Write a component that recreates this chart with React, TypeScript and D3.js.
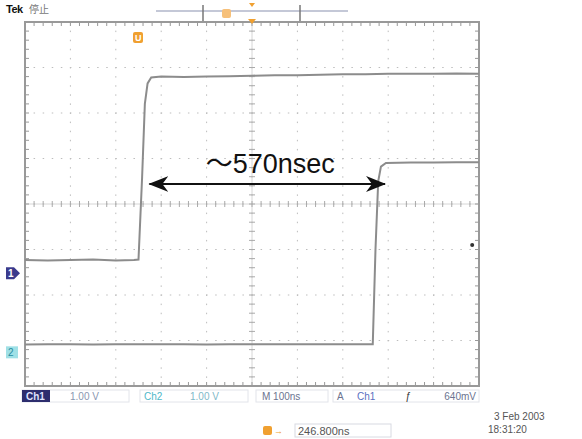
import React from 'react';
import * as d3 from 'd3';

// screen divisions: 10 horizontal x 8 vertical
const xDivs = d3.range(-5, 6);
const yDivs = d3.range(-4, 5);

// Ch1 trace [time div, volt div]
const ch1Points: [number, number][] = [
  [-5, -1.23], [-4.5, -1.24], [-4, -1.23], [-3.5, -1.22], [-3, -1.24], [-2.6, -1.23], [-2.5, -1.22],
  [-2.42, 0.6], [-2.36, 2.2], [-2.3, 2.65], [-2.22, 2.78], [-2, 2.8], [-1.5, 2.79],
  [-1, 2.8], [-0.5, 2.81], [0, 2.82], [0.5, 2.83], [1, 2.83], [1.5, 2.84],
  [2, 2.85], [2.5, 2.85], [3, 2.86], [3.5, 2.86], [4, 2.86], [4.5, 2.87], [5, 2.86],
];

// Ch2 trace
const ch2Points: [number, number][] = [
  [-5, -3.09], [-4.5, -3.08], [-4, -3.08], [-3.5, -3.09], [-3, -3.08], [-2.5, -3.08],
  [-2, -3.08], [-1.5, -3.08], [-1, -3.09], [-0.5, -3.08], [0, -3.08], [0.5, -3.08],
  [1, -3.08], [1.5, -3.08], [2, -3.08], [2.5, -3.08], [2.66, -3.08],
  [2.72, -1.0], [2.78, 0.5], [2.84, 0.82], [2.95, 0.9], [3.5, 0.91], [4, 0.91], [4.5, 0.92], [5, 0.92],
];

const ch1Ground = -1.52;
const ch2Ground = -3.26;
const arrowFrom = -2.26;
const arrowTo = 2.93;
const arrowLevel = 0.44;
const arrowLabel = '～570nsec';

const statusItems = ['1.00 V', '1.00 V', 'M 100ns', '640mV'];
const cursorLabel = '246.800ns';
const dateLabel = '3 Feb 2003';
const timeLabel = '18:31:20';

const W = 582;
const H = 439;

export default function App() {
  const x = d3.scaleLinear().domain([-5, 5]).range([25, 479]);
  const y = d3.scaleLinear().domain([-4, 4]).range([386, 22]);
  const line = d3.line<[number, number]>().x(d => x(d[0])).y(d => y(d[1]));

  const minorX = d3.range(-5, 5.01, 0.2);
  const minorY = d3.range(-4, 4.01, 0.2);
  const dotX = d3.range(-5, 5.01, 0.2);
  const dotY = d3.range(-4, 4.01, 0.2);

  const txt = { fontFamily: 'Liberation Sans, Arial, sans-serif', fontSize: 10 };
  const y0 = y(arrowLevel);

  return (
    <svg width={W} height={H} style={{ position: 'absolute', left: 0, top: 0, background: '#fff' }}>
      <defs>
        <marker id="ah" viewBox="0 0 20 16" refX="19" refY="8" markerWidth="20" markerHeight="16"
          markerUnits="userSpaceOnUse" orient="auto-start-reverse">
          <path d="M0,0 L20,8 L0,16 L6,8 Z" fill="#111" />
        </marker>
      </defs>

      {/* dotted grid */}
      {xDivs.slice(1, -1).map(d => (
        <g key={'gx' + d}>
          {dotY.map(v => (
            <rect key={v} x={x(d) - 0.5} y={y(v) - 0.5} width={1} height={1.5} fill="#bdbdbd" />
          ))}
        </g>
      ))}
      {yDivs.slice(1, -1).map(d => (
        <g key={'gy' + d}>
          {dotX.map(v => (
            <rect key={v} x={x(v) - 0.5} y={y(d) - 0.5} width={1.5} height={1} fill="#bdbdbd" />
          ))}
        </g>
      ))}

      {/* center cross with minor ticks */}
      <line x1={x(0)} x2={x(0)} y1={y(4)} y2={y(-4)} stroke="#d6d6d6" strokeWidth={1} />
      <line x1={x(-5)} x2={x(5)} y1={y(0)} y2={y(0)} stroke="#d6d6d6" strokeWidth={1} />
      {minorX.map(v => (
        <line key={'mx' + v} x1={x(v)} x2={x(v)} y1={y(0) - 3} y2={y(0) + 3} stroke="#aaa" />
      ))}
      {minorY.map(v => (
        <line key={'my' + v} x1={x(0) - 3} x2={x(0) + 3} y1={y(v)} y2={y(v)} stroke="#aaa" />
      ))}

      {/* border with ticks */}
      <rect x={x(-5)} y={y(4)} width={x(5) - x(-5)} height={y(-4) - y(4)} fill="none" stroke="#999" strokeWidth={2} />
      {minorX.map(v => (
        <g key={'bx' + v}>
          <line x1={x(v)} x2={x(v)} y1={y(4)} y2={y(4) + 4} stroke="#999" />
          <line x1={x(v)} x2={x(v)} y1={y(-4)} y2={y(-4) - 4} stroke="#999" />
        </g>
      ))}
      {minorY.map(v => (
        <g key={'by' + v}>
          <line x1={x(-5)} x2={x(-5) + 4} y1={y(v)} y2={y(v)} stroke="#999" />
          <line x1={x(5)} x2={x(5) - 4} y1={y(v)} y2={y(v)} stroke="#999" />
        </g>
      ))}

      {/* traces */}
      <path d={line(ch1Points) ?? ''} fill="none" stroke="#8c8c8c" strokeWidth={2} />
      <path d={line(ch2Points) ?? ''} fill="none" stroke="#8c8c8c" strokeWidth={2} />

      {/* ground markers */}
      <path d={`M6,${y(ch1Ground) - 6} h8 l6,6 l-6,6 h-8 Z`} fill="#3a3a8c" />
      <text x={8} y={y(ch1Ground) + 4} fill="#fff" style={{ ...txt, fontSize: 10, fontWeight: 700 }}>1</text>
      <rect x={6} y={y(ch2Ground) - 6} width={12} height={12} fill="#9fe0e6" />
      <text x={8} y={y(ch2Ground) + 4} fill="#2a8fa0" style={{ ...txt, fontSize: 10 }}>2</text>

      {/* stray dot */}
      <circle cx={x(4.85)} cy={y(-0.9)} r={2} fill="#333" />

      {/* trigger markers */}
      <rect x={133} y={32} width={10} height={11} rx={2} fill="#f0a030" />
      <text x={135} y={41} fill="#fff" style={{ ...txt, fontSize: 9, fontWeight: 700 }}>U</text>
      <path d={`M${x(0) - 4},19 h8 l-4,5 Z`} fill="#f0a030" />
      <path d={`M${x(0) - 3},3 h6 l-3,4 Z`} fill="#f0a030" />

      {/* record bar */}
      <line x1={156} x2={348} y1={11} y2={11} stroke="#8a92b0" strokeWidth={1.2} />
      <line x1={203} x2={203} y1={5} y2={21} stroke="#777" strokeWidth={1.5} />
      <line x1={300} x2={300} y1={5} y2={21} stroke="#777" strokeWidth={1.5} />
      <rect x={222} y={9} width={9} height={9} rx={2} fill="#f6c07a" />

      {/* Tek header */}
      <text x={6} y={13} fill="#111" style={{ ...txt, fontSize: 11, fontWeight: 700, letterSpacing: -0.5 }}>Tek</text>
      <text x={29} y={13} fill="#777" style={{ fontFamily: 'Noto Sans CJK JP', fontSize: 10 }}>停止</text>

      {/* measurement arrow */}
      <line x1={x(arrowFrom)} x2={x(arrowTo)} y1={y0} y2={y0} stroke="#111" strokeWidth={2}
        markerStart="url(#ah)" markerEnd="url(#ah)" />
      <text x={(x(arrowFrom) + x(arrowTo)) / 2 + 3} y={y0 - 11} textAnchor="middle" fill="#111"
        style={{ fontFamily: 'Liberation Sans, Noto Sans CJK JP, sans-serif', fontSize: 27 }}>{arrowLabel}</text>

      {/* status bar */}
      <rect x={22} y={390} width={107} height={12} fill="none" stroke="#e2e4ea" />
      <rect x={22} y={390} width={28} height={12} fill="#2d2d6e" />
      <text x={26} y={400} fill="#dfe2ff" style={{ ...txt, fontWeight: 700 }}>Ch1</text>
      <text x={70} y={400} fill="#8a96b0" style={txt}>{statusItems[0]}</text>
      <rect x={140} y={390} width={108} height={12} fill="none" stroke="#e2e4ea" />
      <text x={144} y={400} fill="#4fb8c8" style={txt}>Ch2</text>
      <text x={190} y={400} fill="#7fb8c8" style={txt}>{statusItems[1]}</text>
      <rect x={256} y={390} width={72} height={12} fill="none" stroke="#e2e4ea" />
      <text x={262} y={400} fill="#6c7490" style={txt}>{statusItems[2]}</text>
      <rect x={333} y={390} width={146} height={12} fill="none" stroke="#e2e4ea" />
      <text x={337} y={400} fill="#6c7490" style={txt}>A</text>
      <text x={357} y={400} fill="#5a70c0" style={txt}>Ch1</text>
      <text x={405} y={400} fill="#333" style={{ ...txt, fontStyle: 'italic' }}>ƒ</text>
      <text x={476} y={400} textAnchor="end" fill="#6c7490" style={txt}>{statusItems[3]}</text>

      {/* cursor readout */}
      <rect x={263} y={426} width={9} height={9} rx={2} fill="#f0a030" />
      <text x={274} y={434} fill="#f0a030" style={{ ...txt, fontSize: 9 }}>→</text>
      <rect x={295} y={424} width={96} height={13} fill="none" stroke="#d8dae2" />
      <text x={298} y={435} fill="#555" style={{ ...txt, fontSize: 11 }}>{cursorLabel}</text>

      {/* timestamp */}
      <text x={494} y={420} fill="#555" style={{ ...txt, fontSize: 10 }}>{dateLabel}</text>
      <text x={488} y={433} fill="#555" style={{ ...txt, fontSize: 10 }}>{timeLabel}</text>
    </svg>
  );
}
